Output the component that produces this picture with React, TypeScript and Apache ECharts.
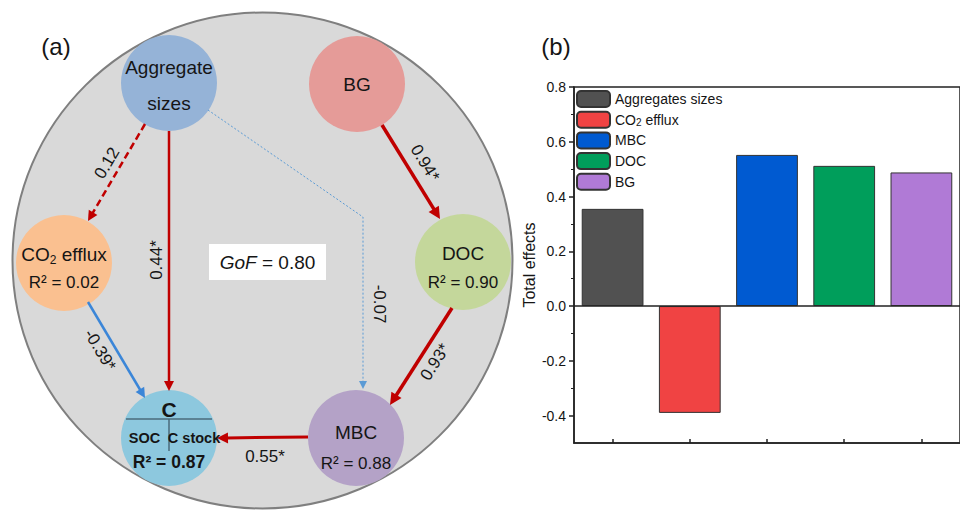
import React, { useEffect, useRef } from "react";
import * as echarts from "echarts";

// ---------- Panel (a): path model data ----------
const nodeNames = ["Aggregate sizes", "BG", "CO2 efflux", "DOC", "C", "MBC"];
const nodeR2 = ["", "", "0.02", "0.90", "0.87", "0.88"];
const pathFrom = ["Aggregate sizes", "Aggregate sizes", "Aggregate sizes", "BG", "DOC", "CO2 efflux", "MBC"];
const pathTo = ["CO2 efflux", "C", "MBC", "DOC", "MBC", "C", "C"];
const pathCoef = ["0.12", "0.44*", "-0.07", "0.94*", "0.93*", "-0.39*", "0.55*"];
const gofValue = "0.80";
const cParts = ["SOC", "C stock"];

// ---------- Panel (b): total effects ----------
const effectCategories = ["Aggregates sizes", "CO2 efflux", "MBC", "DOC", "BG"];
const totalEffects = [0.355, -0.39, 0.552, 0.512, 0.488];
const yTickValues = [-0.4, -0.2, 0.0, 0.2, 0.4, 0.6, 0.8];
const yMinorTickValues = [-0.3, -0.1, 0.1, 0.3, 0.5, 0.7];

// ---------- layout & styles ----------
const FONT = '"Liberation Sans", Arial, Helvetica, sans-serif';
const TEXT = "#151515";
const NODE_R = 48;
const NODE_LAYOUT: Record<string, { x: number; y: number; color: string }> = {
  "Aggregate sizes": { x: 169, y: 83, color: "#95b3d7" },
  BG: { x: 357, y: 84, color: "#e59b98" },
  "CO2 efflux": { x: 64, y: 263, color: "#fac090" },
  DOC: { x: 463, y: 262, color: "#c4d79b" },
  C: { x: 169, y: 438, color: "#8dc8de" },
  MBC: { x: 356, y: 438, color: "#b4a2c7" },
};
const RED = "#c00000";
const EDGE_LAYOUT = [
  { pts: [[145, 124], [88, 221]], color: RED, width: 2.5, dash: [7, 4], head: [10, 5], label: [107, 163], rot: 1.04 },
  { pts: [[169, 131], [169, 391]], color: RED, width: 2.5, dash: null, head: [10, 5], label: [156, 260], rot: Math.PI / 2 },
  { pts: [[208, 110], [363, 217], [363, 389]], color: "#5b9bd5", width: 1, dash: [2, 2], head: [8, 4], label: [379, 304], rot: -Math.PI / 2 },
  { pts: [[382, 125], [440, 219]], color: RED, width: 3.5, dash: null, head: [12, 6], label: [425, 163], rot: -1.02 },
  { pts: [[452, 308], [390, 405]], color: RED, width: 3.5, dash: null, head: [12, 6], label: [435, 362], rot: 1.0 },
  { pts: [[88, 302], [145, 398]], color: "#3b86d8", width: 2.5, dash: null, head: [10, 5], label: [100, 350], rot: -1.03 },
  { pts: [[308, 437], [217, 438]], color: RED, width: 3, dash: null, head: [11, 5.5], label: [265, 456], rot: 0 },
];
const BAR_COLORS = ["#515151", "#f04343", "#005ad1", "#009e5b", "#b07ad6"];

function font(size: number, weight = "normal", style = "normal") {
  return `${style} ${weight} ${size}px ${FONT}`;
}

function textEl(text: string, x: number, y: number, size: number, extra: any = {}, rotation = 0) {
  return {
    type: "text",
    x,
    y,
    rotation,
    silent: true,
    z: 20,
    style: {
      text,
      font: font(size, extra.weight || "normal"),
      fill: TEXT,
      align: "center",
      verticalAlign: "middle",
      ...(extra.style || {}),
    },
  };
}

function arrowEls(pts: number[][], color: string, width: number, dash: number[] | null, head: number[]) {
  const n = pts.length;
  const [tx, ty] = pts[n - 1];
  const [px, py] = pts[n - 2];
  const dx = tx - px;
  const dy = ty - py;
  const len = Math.hypot(dx, dy);
  const ux = dx / len;
  const uy = dy / len;
  const [hl, hw] = head;
  const bx = tx - ux * hl;
  const by = ty - uy * hl;
  const linePts = pts.slice(0, n - 1).concat([[bx + ux, by + uy]]);
  return [
    {
      type: "polyline",
      silent: true,
      z: 10,
      shape: { points: linePts },
      style: { stroke: color, lineWidth: width, lineDash: dash || undefined, fill: "none" },
    },
    {
      type: "polygon",
      silent: true,
      z: 11,
      shape: {
        points: [
          [tx, ty],
          [bx - uy * hw, by + ux * hw],
          [bx + uy * hw, by - ux * hw],
        ],
      },
      style: { fill: color },
    },
  ];
}

function buildPanelA() {
  const els: any[] = [];
  els.push({
    type: "ellipse",
    silent: true,
    z: 1,
    shape: { cx: 262.5, cy: 260.5, rx: 250, ry: 248 },
    style: { fill: "#d9d9d9", stroke: "#7f7f7f", lineWidth: 2 },
  });
  nodeNames.forEach((name) => {
    const L = NODE_LAYOUT[name];
    els.push({ type: "circle", silent: true, z: 5, shape: { cx: L.x, cy: L.y, r: NODE_R }, style: { fill: L.color } });
  });
  pathFrom.forEach((from, i) => {
    const E = EDGE_LAYOUT[i];
    els.push(...arrowEls(E.pts, E.color, E.width, E.dash, E.head));
    els.push(textEl(pathCoef[i], E.label[0], E.label[1], 17, {}, E.rot));
  });
  const agg = NODE_LAYOUT["Aggregate sizes"];
  const aggWords = nodeNames[0].split(" ");
  els.push(textEl(aggWords[0], agg.x, agg.y - 16, 19));
  els.push(textEl(aggWords[1], agg.x, agg.y + 20, 19));
  const bg = NODE_LAYOUT["BG"];
  els.push(textEl(nodeNames[1], bg.x, bg.y, 19));
  const co2 = NODE_LAYOUT["CO2 efflux"];
  const co2Parts = nodeNames[2].split("2");
  els.push({
    type: "text",
    x: co2.x,
    y: co2.y - 9,
    silent: true,
    z: 20,
    style: {
      text: `{n|${co2Parts[0]}}{s|2}{n|${co2Parts[1]}}`,
      align: "center",
      verticalAlign: "middle",
      fill: TEXT,
      rich: {
        n: { fontSize: 19, fontFamily: FONT, lineHeight: 24, verticalAlign: "middle", fill: TEXT },
        s: { fontSize: 12, fontFamily: FONT, lineHeight: 12, verticalAlign: "bottom", fill: TEXT },
      },
    },
  });
  els.push(textEl(`R\u00b2 = ${nodeR2[2]}`, co2.x, co2.y + 19, 17));
  const doc = NODE_LAYOUT["DOC"];
  els.push(textEl(nodeNames[3], doc.x, doc.y - 9, 19));
  els.push(textEl(`R\u00b2 = ${nodeR2[3]}`, doc.x, doc.y + 20, 17));
  const mbc = NODE_LAYOUT["MBC"];
  els.push(textEl(nodeNames[5], mbc.x, mbc.y - 6, 19));
  els.push(textEl(`R\u00b2 = ${nodeR2[5]}`, mbc.x, mbc.y + 25, 17));
  const c = NODE_LAYOUT["C"];
  els.push(textEl(nodeNames[4], c.x, c.y - 29, 21, { weight: "bold" }));
  els.push({ type: "line", silent: true, z: 15, shape: { x1: c.x - 43, y1: c.y - 19, x2: c.x + 43, y2: c.y - 19 }, style: { stroke: "#4b6b7b", lineWidth: 1.5 } });
  els.push({ type: "line", silent: true, z: 15, shape: { x1: c.x, y1: c.y - 19, x2: c.x, y2: c.y + 13 }, style: { stroke: "#4b6b7b", lineWidth: 1.5 } });
  els.push(textEl(cParts[0], c.x - 24.5, c.y, 14.5, { weight: "bold" }));
  els.push(textEl(cParts[1], c.x + 25, c.y, 14.5, { weight: "bold" }));
  els.push(textEl(`R\u00b2 = ${nodeR2[4]}`, c.x, c.y + 24, 17.5, { weight: "bold" }));
  els.push({ type: "rect", silent: true, z: 12, shape: { x: 209, y: 244, width: 117, height: 36 }, style: { fill: "#ffffff" } });
  els.push({
    type: "text",
    x: 267.5,
    y: 262,
    silent: true,
    z: 20,
    style: {
      text: `{i|GoF}{n| = ${gofValue}}`,
      align: "center",
      verticalAlign: "middle",
      fill: TEXT,
      rich: {
        i: { fontSize: 19, fontFamily: FONT, fontStyle: "italic", fill: TEXT },
        n: { fontSize: 19, fontFamily: FONT, fill: TEXT },
      },
    },
  });
  els.push(textEl("(a)", 56, 46, 24));
  els.push(textEl("(b)", 556, 46, 24));
  return els;
}

export default function App() {
  const ref = useRef<HTMLDivElement>(null);
  useEffect(() => {
    document.body.style.margin = "0";
    if (!ref.current) return;
    const chart = echarts.init(ref.current, undefined, { renderer: "svg" });
    const axisLine = { show: true, lineStyle: { color: "#222", width: 1.5 } };
    chart.setOption({
      animation: false,
      backgroundColor: "#ffffff",
      textStyle: { fontFamily: FONT },
      graphic: { elements: buildPanelA() },
      grid: {
        left: 574,
        top: 87,
        width: 394,
        height: 356,
        show: true,
        borderColor: "#222",
        borderWidth: 1.5,
        backgroundColor: "transparent",
      },
      legend: {
        orient: "vertical",
        left: 576,
        top: 90,
        padding: 0,
        itemWidth: 33,
        itemHeight: 16,
        itemGap: 2.7,
        data: effectCategories,
        selectedMode: false,
        formatter: (name: string) =>
          name === "CO2 efflux" ? "{n|CO}{s|2}{n| efflux}" : `{n|${name}}`,
        textStyle: {
          color: TEXT,
          fontSize: 14,
          rich: {
            n: { fontSize: 14, fontFamily: FONT, color: TEXT, lineHeight: 16, verticalAlign: "middle" },
            s: { fontSize: 10, fontFamily: FONT, color: TEXT, lineHeight: 8, verticalAlign: "bottom" },
          },
        },
      },
      xAxis: {
        type: "category",
        data: effectCategories,
        axisLine: { ...axisLine, onZero: false },
        axisTick: { show: true, inside: true, alignWithLabel: true, interval: 0, length: 4, lineStyle: { color: "#222", width: 1.5 } },
        axisLabel: { show: false, interval: 0 },
        splitLine: { show: false },
      },
      yAxis: [
        {
          type: "value",
          min: -0.5,
          max: 0.8,
          name: "Total effects",
          nameLocation: "middle",
          nameGap: 36,
          nameTextStyle: { fontSize: 16, color: TEXT, fontFamily: FONT },
          axisLine,
          axisTick: { show: true, customValues: yTickValues, length: 5, lineStyle: { color: "#222", width: 1.5 } },
          axisLabel: {
            customValues: yTickValues,
            formatter: (v: number) => v.toFixed(1),
            fontSize: 14,
            color: TEXT,
            margin: 8,
          },
          splitLine: { show: false },
        },
        {
          type: "value",
          min: -0.5,
          max: 0.8,
          position: "left",
          axisLine: { show: false },
          axisTick: { show: true, customValues: yMinorTickValues, length: 3, lineStyle: { color: "#222", width: 1 } },
          axisLabel: { show: false },
          splitLine: { show: false },
        },
      ],
      series: effectCategories.map((name, i) => ({
        name,
        type: "bar",
        stack: "total",
        barWidth: "80%",
        yAxisIndex: 0,
        data: effectCategories.map((_, j) => (j === i ? totalEffects[i] : "-")),
        itemStyle: { color: BAR_COLORS[i], borderColor: "#333", borderWidth: 1 },
        ...(i === 0
          ? {
              markLine: {
                silent: true,
                symbol: ["none", "none"],
                label: { show: false },
                lineStyle: { color: "#222", width: 1.5, type: "solid" },
                data: [{ yAxis: 0 }],
              },
            }
          : {}),
      })),
    });
    return () => chart.dispose();
  }, []);
  return (
    <div
      ref={ref}
      style={{ position: "fixed", left: 0, top: 0, width: 960, height: 510 }}
    />
  );
}
